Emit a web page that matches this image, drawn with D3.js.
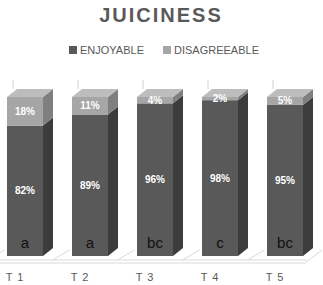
<!DOCTYPE html>
<html>
<head>
<meta charset="utf-8">
<script src="https://cdn.jsdelivr.net/npm/d3@7"></script>
<style>
  html, body { margin: 0; padding: 0; background: #fff; }
  svg { display: block; font-family: "Liberation Sans", Arial, sans-serif; }
</style>
</head>
<body>
<svg id="chart" width="323" height="285"></svg>
<script>
// data
const categories = ['T 1', 'T 2', 'T 3', 'T 4', 'T 5'];
const enjoyable = [82, 89, 96, 98, 95];
const disagreeable = [18, 11, 4, 2, 5];
const letters = ['a', 'a', 'bc', 'c', 'bc'];
const seriesNames = ['ENJOYABLE', 'DISAGREEABLE'];

const width = 323, height = 285;
const depthX = 10, depthY = -8;   // 3d offset of the boxes

const svg = d3.select('#chart');

// colours: front, top, side
const shades = [
  { front: '#595959', top: '#717171', side: '#3c3c3c' },
  { front: '#a6a6a6', top: '#bdbdbd', side: '#7f7f7f' }
];

const x = d3.scaleBand()
  .domain(categories)
  .range([7, 303])
  .paddingInner(29 / 65)
  .paddingOuter(0);

const y = d3.scaleLinear()
  .domain([0, 100])
  .range([256, 97]);

// Title
svg.append('text')
  .attr('x', 161)
  .attr('y', 22)
  .attr('text-anchor', 'middle')
  .style('font-size', '20px')
  .style('font-weight', '700')
  .style('letter-spacing', '2px')
  .style('fill', '#595959')
  .text('JUICINESS');

// Legend
const legendX = [69, 163];
seriesNames.forEach((name, i) => {
  const lg = svg.append('g').attr('transform', `translate(${legendX[i]},50)`);
  lg.append('rect')
    .attr('x', 0).attr('y', -4)
    .attr('width', 8).attr('height', 8)
    .attr('fill', shades[i].front);
  lg.append('text')
    .attr('x', 11)
    .attr('y', 4)
    .style('font-size', '11px')
    .style('fill', '#595959')
    .text(name);
});

// back wall stubs above each bar
svg.append('g')
  .selectAll('line')
  .data(categories)
  .enter()
  .append('line')
  .attr('x1', d => x(d) + 6)
  .attr('x2', d => x(d) + 6)
  .attr('y1', 80)
  .attr('y2', y(100) + depthY)
  .attr('stroke', '#d0d0d0')
  .attr('stroke-width', 1);

// floor
const floor = svg.append('g')
  .attr('fill', 'none')
  .attr('stroke', '#d9d9d9')
  .attr('stroke-width', 1);
const floorFront = 263, floorBack = 250;
floor.append('line').attr('x1', 0).attr('x2', 305).attr('y1', floorFront).attr('y2', floorFront);
floor.append('line').attr('x1', 0).attr('x2', 307).attr('y1', floorFront - 3).attr('y2', floorFront - 3);
floor.append('line').attr('x1', 305).attr('x2', 322).attr('y1', floorFront).attr('y2', floorBack);
const step = x.step();
floor.selectAll('.div')
  .data(d3.range(categories.length))
  .enter()
  .append('line')
  .attr('x1', i => x(categories[i]) - (step - x.bandwidth()) / 2 - 5)
  .attr('x2', i => x(categories[i]) - (step - x.bandwidth()) / 2 + 12)
  .attr('y1', floorFront - 3)
  .attr('y2', floorBack);

// stacked boxes
const stackData = categories.map((c, i) => ({ cat: c, values: [enjoyable[i], disagreeable[i]] }));
const bw = x.bandwidth();

stackData.forEach((d, i) => {
  let base = 0;
  const g = svg.append('g');
  d.values.forEach((v, s) => {
    const x0 = x(d.cat);
    const yTop = y(base + v);
    const yBot = y(base);
    const c = shades[s];
    // side
    g.append('path')
      .attr('d', `M${x0 + bw},${yBot} L${x0 + bw + depthX},${yBot + depthY} L${x0 + bw + depthX},${yTop + depthY} L${x0 + bw},${yTop} Z`)
      .attr('fill', c.side);
    // front
    g.append('rect')
      .attr('x', x0)
      .attr('y', yTop)
      .attr('width', bw)
      .attr('height', yBot - yTop)
      .attr('fill', c.front);
    // top (only for the highest segment)
    if (s === d.values.length - 1) {
      g.append('path')
        .attr('d', `M${x0},${yTop} L${x0 + depthX},${yTop + depthY} L${x0 + bw + depthX},${yTop + depthY} L${x0 + bw},${yTop} Z`)
        .attr('fill', c.top);
    }
    // value label
    g.append('text')
      .attr('x', x0 + bw / 2)
      .attr('y', (yTop + yBot) / 2 + 3.5)
      .attr('text-anchor', 'middle')
      .style('font-size', '10px')
      .style('font-weight', '700')
      .style('fill', '#ffffff')
      .text(v + '%');
    base += v;
  });
  // significance letter
  g.append('text')
    .attr('x', x(d.cat) + bw / 2)
    .attr('y', 248)
    .attr('text-anchor', 'middle')
    .style('font-size', '15px')
    .style('fill', '#111')
    .text(letters[i]);
});

// category labels
svg.append('g')
  .selectAll('text')
  .data(categories)
  .enter()
  .append('text')
  .attr('x', d => x(d) + 8)
  .attr('y', 281)
  .attr('text-anchor', 'middle')
  .style('font-size', '11px')
  .style('letter-spacing', '1px')
  .style('fill', '#595959')
  .text(d => d);
</script>
</body>
</html>
